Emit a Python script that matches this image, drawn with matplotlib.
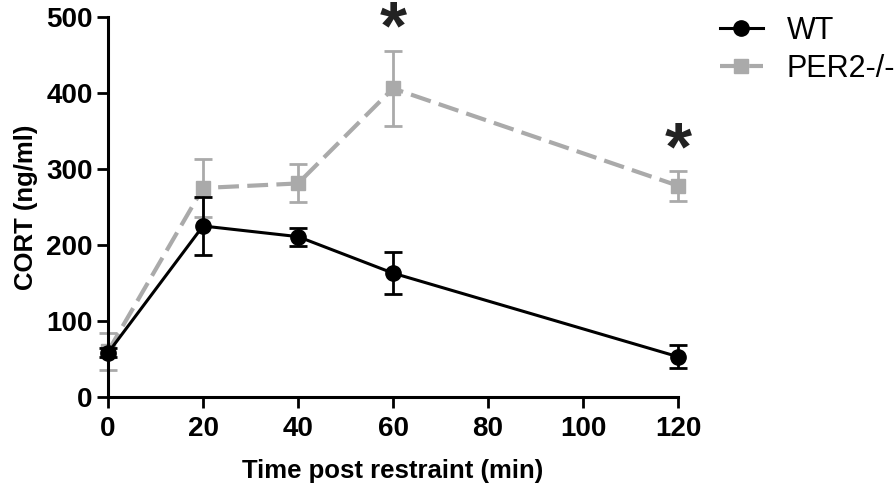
import matplotlib.pyplot as plt

times = [0, 20, 40, 60, 120]

wt_mean = [58, 225, 211, 163, 53]
wt_err = [6, 38, 12, 28, 15]

per2_mean = [60, 275, 281, 406, 278]
per2_err = [24, 38, 25, 49, 20]

star_x = [60, 120]
star_y = [524, 365]

plt.rcParams["font.family"] = ["Liberation Sans", "DejaVu Sans"]

fig = plt.figure(figsize=(8.96, 4.96), dpi=100)
ax = fig.add_axes([108 / 896, 99 / 496, 570 / 896, 380 / 496])

gray = "#aaaaaa"

ax.errorbar(times, per2_mean, yerr=per2_err, color=gray, ls=(0, (5, 2)), lw=3,
            marker="s", ms=10, capsize=6.5, capthick=2, elinewidth=2,
            label="PER2-/-", clip_on=False, zorder=2)
ax.errorbar(times, wt_mean, yerr=wt_err, color="black", ls="-", lw=2.2,
            marker="o", ms=11, capsize=6.5, capthick=2, elinewidth=2,
            label="WT", clip_on=False, zorder=3)

for x, y in zip(star_x, star_y):
    ax.text(x, y, "*", ha="center", va="top", fontsize=50, fontweight="bold",
            color="#222222", clip_on=False)

ax.set_xlim(0, 120)
ax.set_ylim(0, 500)
ax.set_xticks([0, 20, 40, 60, 80, 100, 120])
ax.set_yticks([0, 100, 200, 300, 400, 500])

for side in ["top", "right"]:
    ax.spines[side].set_visible(False)
for side in ["left", "bottom"]:
    ax.spines[side].set_linewidth(2.2)

ax.tick_params(width=2, length=8, labelsize=20)
ax.tick_params(axis="x", pad=6)
ax.tick_params(axis="y", pad=3)
for lbl in ax.get_xticklabels() + ax.get_yticklabels():
    lbl.set_fontweight("bold")

ax.set_xlabel("Time post restraint (min)", fontsize=18.5, fontweight="bold", labelpad=12)
ax.set_ylabel("CORT (ng/ml)", fontsize=18.5, fontweight="bold", labelpad=6)

h, l = ax.get_legend_handles_labels()
handles = [hh[0] for hh in h[::-1]]
ax.legend(handles, l[::-1], loc="upper left", bbox_to_anchor=(1.025, 1.075),
          frameon=False, fontsize=22, handlelength=1.4, handletextpad=0.8,
          labelspacing=0.25)

fig.savefig("out.png", dpi=100)
